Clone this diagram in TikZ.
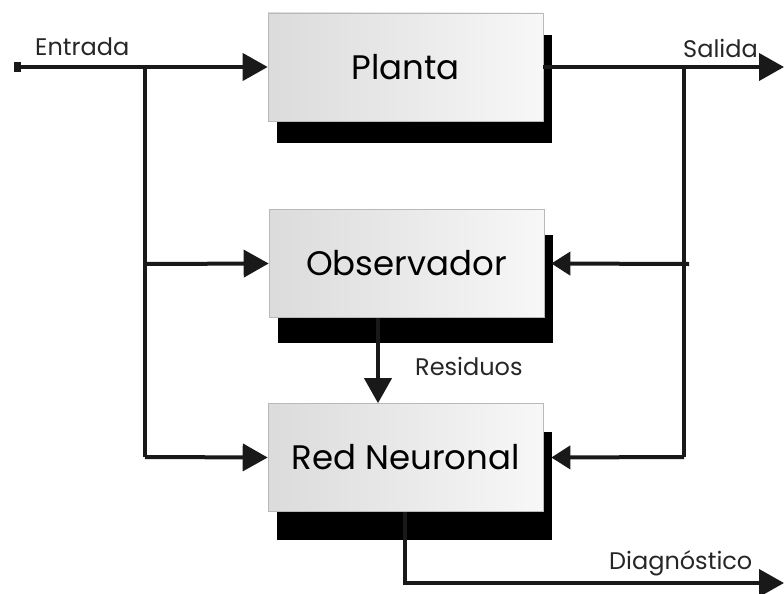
\documentclass[tikz,border=0pt]{standalone}
\usepackage{fontspec}
\setmainfont{Poppins}
\usetikzlibrary{arrows.meta,shadows}
\begin{document}
\begin{tikzpicture}[x=1pt,y=-1pt,
  blockbox/.style={draw=gray!55,line width=0.6pt,minimum width=275pt,minimum height=108pt,
    left color=black!14,right color=black!3,inner sep=0pt,
    font=\fontsize{34}{40}\selectfont,
    drop shadow={shadow xshift=9pt,shadow yshift=-#1,fill=black,opacity=1,draw=none}},
  blockbox/.default=23pt,
  flow/.style={line width=4pt,draw=black!90,-{Triangle[length=25pt,width=27pt]}},
  backflow/.style={line width=4pt,draw=black!90,-{Triangle[length=19pt,width=23pt]}},
  wire/.style={line width=4pt,draw=black!90},
  lbl/.style={font=\fontsize{24}{28}\selectfont,inner sep=0pt,text=black!85}]
\useasboundingbox (0,0) rectangle (784,594);

% blocks
\node[blockbox=22pt] (planta) at (405.5,67) {Planta};
\node[blockbox=25pt] (obs) at (406.5,263.5) {Observador};
\node[blockbox=28pt] (red) at (405.5,457.5) {Red Neuronal};

% junctions and free ends
\coordinate (in) at (14,67);
\coordinate (ja) at (145,67);
\coordinate (jb) at (145,264);
\coordinate (jc) at (145,457);
\coordinate (sa) at (684,67);
\coordinate (sb) at (689,264);
\coordinate (sc) at (684,457);
\coordinate (out) at (784,67);
\coordinate (dg) at (405,583);
\coordinate (dend) at (784,583);

% input distribution
\draw[flow,{Square[length=7pt,width=9pt]}-{Triangle[length=25pt,width=27pt]}] (in) -- (planta.west);
\draw[wire] (ja) -- (jc);
\draw[flow] (jb) -- (obs.west);
\draw[flow] (jc) -- (red.west);

% output and feedback
\draw[flow] (planta.east) -- (out);
\draw[wire] (sa) -- (sc);
\draw[backflow] (sb) -- ([xshift=7pt]obs.east);
\draw[backflow] (sc) -- ([xshift=8pt]red.east);

% residuals and diagnosis
\draw[flow] (obs.south -| 378,0) -- (red.north -| 378,0);
\draw[flow] (red.south -| dg) -- (dg) -- (dend);

% labels
\node[lbl,anchor=base west] (lin) at (35,56) {Entrada};
\node[lbl,anchor=base west] (lout) at (683,57) {Salida};
\node[lbl,anchor=base west] (lres) at (415,375) {Residuos};
\node[lbl,anchor=base west] (ldiag) at (609,569) {Diagnóstico};
\end{tikzpicture}
\end{document}
